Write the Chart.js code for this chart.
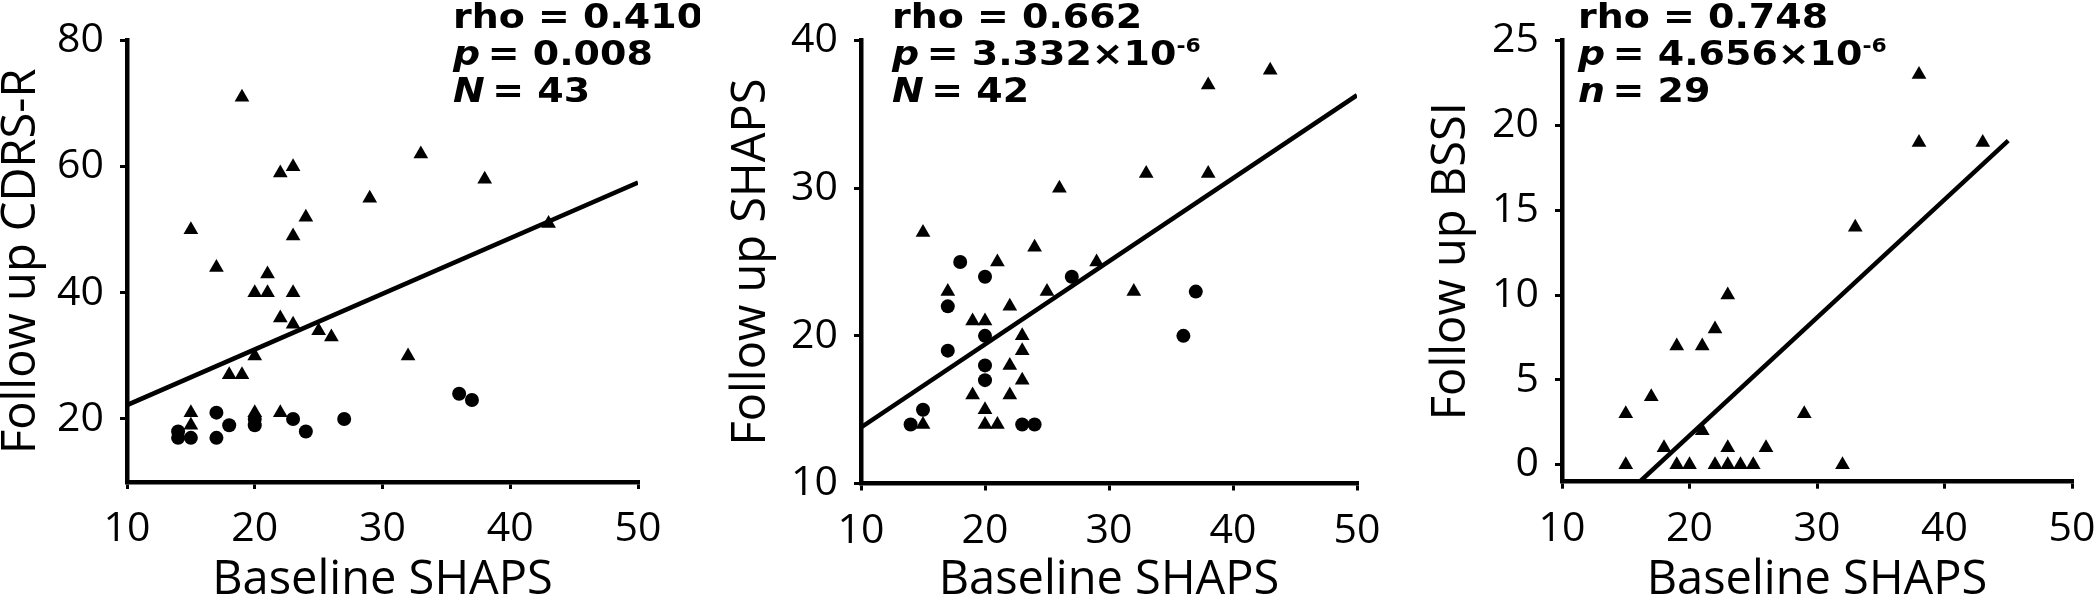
<!DOCTYPE html>
<html lang="en">
<head>
<meta charset="UTF-8" />
<title>Baseline SHAPS vs follow up scores</title>
<script src="https://cdn.jsdelivr.net/npm/chart.js"></script>
<style>
  html, body { margin: 0; padding: 0; background: #fff; overflow: hidden; }
  body { width: 2100px; height: 602px; position: relative; }
  .panel { position: absolute; top: 0; height: 602px; }
</style>
</head>
<body>

<div class="panel" style="left:0;width:700px"><canvas id="cdrsChart"></canvas></div>
<div class="panel" style="left:700px;width:700px"><canvas id="shapsChart"></canvas></div>
<div class="panel" style="left:1400px;width:760px"><canvas id="bssiChart"></canvas></div>

<script>
// shared x axis
const xTicks = [10, 20, 30, 40, 50];
const xTitle = 'Baseline SHAPS';

// panel 1 - follow up CDRS-R
const cdrsTicks = [20, 40, 60, 80];
const cdrsTriX = [19, 15, 17, 22, 23, 24, 23, 21, 20, 21, 23, 22, 23, 25, 26, 20, 18, 19, 29, 33, 38, 43, 32, 15, 15, 20, 22];
const cdrsTriY = [71, 50, 44, 59, 60, 52, 49, 43, 40, 40, 40, 36, 35, 34, 33, 30, 27, 27, 55, 62, 58, 51, 30, 21, 19, 21, 21];
const cdrsDotX = [14, 14, 15, 17, 17, 18, 20, 20, 23, 24, 27, 36, 37];
const cdrsDotY = [17, 18, 17, 21, 17, 19, 20, 19, 20, 18, 20, 24, 23];
const cdrsFitX = [10, 50];
const cdrsFitY = [22.2, 57.5];

// panel 2 - follow up SHAPS
const shapsTicks = [10, 20, 30, 40];
const shapsTriX = [43, 38, 33, 38, 26, 15, 24, 21, 29, 17, 25, 32, 22, 19, 20, 23, 23, 22, 23, 19, 22, 20, 20, 21, 15];
const shapsTriY = [38, 37, 31, 31, 30, 27, 26, 25, 25, 23, 23, 23, 22, 21, 21, 20, 19, 18, 17, 16, 16, 15, 14, 14, 14];
const shapsDotX = [18, 20, 27, 37, 17, 17, 36, 20, 20, 20, 15, 14, 23, 24];
const shapsDotY = [25, 24, 24, 23, 22, 19, 20, 20, 18, 17, 15, 14, 14, 14];
const shapsFitX = [10, 50];
const shapsFitY = [13.8, 36.3];

// panel 3 - follow up BSSI
const bssiTicks = [0, 5, 10, 15, 20, 25];
const bssiTriX = [38, 38, 43, 33, 23, 22, 19, 21, 17, 15, 29, 21, 18, 23, 26, 15, 19, 20, 22, 23, 24, 25, 32];
const bssiTriY = [23, 19, 19, 14, 10, 8, 7, 7, 4, 3, 3, 2, 1, 1, 1, 0, 0, 0, 0, 0, 0, 0, 0];
const bssiFitX = [16.1, 45];
const bssiFitY = [-1, 19.1];

const pts = (xs, ys) => xs.map((x, i) => ({ x: x, y: ys[i] }));

// bold stats block in the corner of each panel (glyphs stretched a bit wider)
const statsPlugin = {
  id: 'stats',
  afterDraw(chart, args, opts) {
    const ctx = chart.ctx;
    const sx = opts.stretch;
    ctx.save();
    ctx.fillStyle = '#000';
    ctx.textBaseline = 'alphabetic';
    opts.lines.forEach((parts, i) => {
      let x = opts.x;
      const y = opts.y + i * opts.gap;
      parts.forEach(p => {
        ctx.font = p.font;
        ctx.save();
        ctx.translate(x, y + (p.dy || 0));
        ctx.scale(sx, 1);
        ctx.fillText(p.t, 0, 0);
        ctx.restore();
        x += ctx.measureText(p.t).width * sx;
      });
    });
    ctx.restore();
  }
};

const bold = 'bold 33px "DejaVu Sans"';
const boldIt = 'italic bold 33px "DejaVu Sans"';
const sup = 'bold 19px "DejaVu Sans"';

function makePanel(id, o) {
  const datasets = [
    { label: 'tri', data: o.tri, pointStyle: 'triangle', pointRadius: 8.5,
      backgroundColor: '#000', borderColor: '#000', borderWidth: 0 }
  ];
  if (o.dot) {
    datasets.push({ label: 'dot', data: o.dot, pointStyle: 'circle', pointRadius: 7,
      backgroundColor: '#000', borderColor: '#000', borderWidth: 0 });
  }
  datasets.push({ label: 'fit', data: o.fit, showLine: true, pointRadius: 0,
    borderColor: '#000', borderWidth: 4.5, fill: false });

  new Chart(document.getElementById(id), {
    type: 'scatter',
    data: { datasets: datasets },
    plugins: [statsPlugin],
    options: {
      responsive: true,
      maintainAspectRatio: false,
      animation: false,
      layout: { padding: { left: 0, right: o.right, top: 27, bottom: 0 } },
      scales: {
        x: {
          type: 'linear', min: 10, max: 50,
          afterBuildTicks: s => { s.ticks = xTicks.map(v => ({ value: v })); },
          afterFit: s => { s.height = o.xh; },
          border: { display: true, color: '#000', width: 4.5 },
          grid: { drawOnChartArea: false, drawTicks: true, tickLength: 7, color: '#000', lineWidth: 3 },
          ticks: { color: '#000', font: { family: 'Open Sans', size: 41 }, padding: 16 },
          title: { display: true, text: xTitle, color: '#000',
            font: { family: 'Open Sans', size: 47, lineHeight: 0.9 }, padding: { top: 0, bottom: 0 } }
        },
        y: {
          type: 'linear', min: o.ymin, max: o.ymax,
          afterBuildTicks: s => { s.ticks = o.yticks.map(v => ({ value: v })); },
          afterFit: s => { s.width = o.yw; },
          border: { display: true, color: '#000', width: 4.5 },
          grid: { drawOnChartArea: false, drawTicks: true, tickLength: 7, color: '#000', lineWidth: 3 },
          ticks: { color: '#000', font: { family: 'Open Sans', size: 41 }, padding: 16 },
          title: { display: true, text: o.ytitle, color: '#000',
            font: { family: 'Open Sans', size: 47, lineHeight: 0.9 }, padding: { top: o.ytpad, bottom: 0 } }
        }
      },
      plugins: {
        legend: { display: false },
        tooltip: { enabled: false },
        stats: { x: o.sx, y: 28, gap: 37, stretch: 1.15, lines: o.stats }
      }
    }
  });
}

makePanel('cdrsChart', {
  tri: pts(cdrsTriX, cdrsTriY), dot: pts(cdrsDotX, cdrsDotY), fit: pts(cdrsFitX, cdrsFitY),
  ymin: 10, ymax: 80, yticks: cdrsTicks, ytitle: 'Follow up CDRS-R',
  yw: 127, xh: 120, right: 62, ytpad: 0, sx: 453,
  stats: [
    [{ t: 'rho = 0.410', font: bold }],
    [{ t: 'p', font: boldIt }, { t: '\u2009= 0.008', font: bold }],
    [{ t: 'N', font: boldIt }, { t: '\u2009= 43', font: bold }]
  ]
});

makePanel('shapsChart', {
  tri: pts(shapsTriX, shapsTriY), dot: pts(shapsDotX, shapsDotY), fit: pts(shapsFitX, shapsFitY),
  ymin: 10, ymax: 40, yticks: shapsTicks, ytitle: 'Follow up SHAPS',
  yw: 161, xh: 118.5, right: 43, ytpad: 30, sx: 192,
  stats: [
    [{ t: 'rho = 0.662', font: bold }],
    [{ t: 'p', font: boldIt }, { t: '\u2009= 3.332\u00d710', font: bold }, { t: '-6', font: sup, dy: -13 }],
    [{ t: 'N', font: boldIt }, { t: '\u2009= 42', font: bold }]
  ]
});

makePanel('bssiChart', {
  tri: pts(bssiTriX, bssiTriY), fit: pts(bssiFitX, bssiFitY),
  ymin: -1, ymax: 25, yticks: bssiTicks, ytitle: 'Follow up BSSI',
  yw: 162, xh: 120.3, right: 88, ytpad: 30, sx: 178,
  stats: [
    [{ t: 'rho = 0.748', font: bold }],
    [{ t: 'p', font: boldIt }, { t: '\u2009= 4.656\u00d710', font: bold }, { t: '-6', font: sup, dy: -13 }],
    [{ t: 'n', font: boldIt }, { t: '\u2009= 29', font: bold }]
  ]
});
</script>

</body>
</html>
